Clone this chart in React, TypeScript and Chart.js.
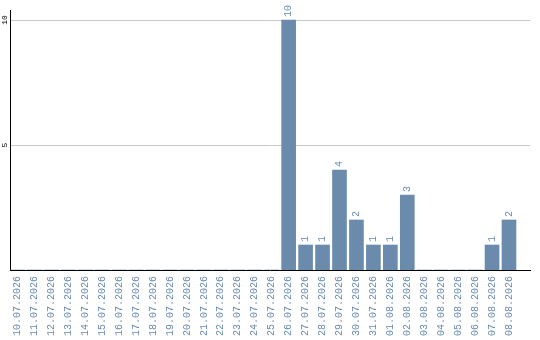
import React, { useEffect, useRef } from "react";
import { Chart, registerables } from "chart.js";

Chart.register(...registerables);

// Daily counts, 10.07.2026 – 08.08.2026
const dates: string[] = [
  "10.07.2026", "11.07.2026", "12.07.2026", "13.07.2026", "14.07.2026",
  "15.07.2026", "16.07.2026", "17.07.2026", "18.07.2026", "19.07.2026",
  "20.07.2026", "21.07.2026", "22.07.2026", "23.07.2026", "24.07.2026",
  "25.07.2026", "26.07.2026", "27.07.2026", "28.07.2026", "29.07.2026",
  "30.07.2026", "31.07.2026", "01.08.2026", "02.08.2026", "03.08.2026",
  "04.08.2026", "05.08.2026", "06.08.2026", "07.08.2026", "08.08.2026",
];
const counts: number[] = [
  0, 0, 0, 0, 0, 0, 0, 0, 0, 0,
  0, 0, 0, 0, 0, 0, 10, 1, 1, 4,
  2, 1, 1, 3, 0, 0, 0, 0, 1, 2,
];
const yTicks: number[] = [5, 10];

const BAR = "#6a8bac";
const TEXT = "#6a8bb0";
const MONO = "'Liberation Mono', 'DejaVu Sans Mono', monospace";

// Rotated value labels above each non-zero bar
const valueLabels = {
  id: "valueLabels",
  afterDatasetsDraw(chart: any) {
    const ctx = chart.ctx;
    const meta = chart.getDatasetMeta(0);
    ctx.save();
    ctx.fillStyle = TEXT;
    ctx.font = `10px ${MONO}`;
    ctx.textAlign = "left";
    ctx.textBaseline = "middle";
    meta.data.forEach((bar: any, i: number) => {
      const v = counts[i];
      if (!v) return;
      ctx.save();
      ctx.translate(bar.x, bar.y - 3);
      ctx.rotate(-Math.PI / 2);
      ctx.fillText(String(v), 0, 0);
      ctx.restore();
    });
    ctx.restore();
  },
};

// Rotated y-axis tick labels at the left edge
const yTickLabels = {
  id: "yTickLabels",
  afterDraw(chart: any) {
    const ctx = chart.ctx;
    const y = chart.scales.y;
    ctx.save();
    ctx.fillStyle = "#000";
    ctx.font = `8px ${MONO}`;
    ctx.textAlign = "center";
    ctx.textBaseline = "middle";
    yTicks.forEach((t) => {
      ctx.save();
      ctx.translate(5, y.getPixelForValue(t));
      ctx.rotate(-Math.PI / 2);
      ctx.fillText(String(t), 0, 0);
      ctx.restore();
    });
    ctx.restore();
  },
};

export default function App() {
  const ref = useRef<HTMLCanvasElement>(null);

  useEffect(() => {
    if (!ref.current) return;
    const chart = new Chart(ref.current, {
      type: "bar",
      data: {
        datasets: [
          {
            data: counts.map((v, i) => ({ x: i, y: v })),
            backgroundColor: BAR,
            borderWidth: 0,
            barThickness: 14,
          },
        ],
      },
      options: {
        animation: false,
        responsive: false,
        layout: { padding: { left: 10, right: 10, top: 10, bottom: 0 } },
        plugins: { legend: { display: false }, tooltip: { enabled: false } },
        scales: {
          x: {
            type: "linear",
            offset: false,
            min: -0.44,
            max: 30.24,
            afterBuildTicks: (scale: any) => {
              scale.ticks = dates.map((_, i) => ({ value: i }));
            },
            afterFit: (scale: any) => {
              scale.height = 70;
              scale.paddingLeft = 0;
              scale.paddingRight = 0;
            },
            grid: { display: false, drawTicks: false, offset: false },
            border: { color: "#000", width: 1 },
            ticks: {
              autoSkip: false,
              minRotation: 90,
              maxRotation: 90,
              padding: 6,
              color: TEXT,
              font: { family: MONO, size: 10 },
              callback: (v: any) => dates[v as number] ?? "",
            },
          },
          y: {
            min: 0,
            max: 10.4,
            afterBuildTicks: (scale: any) => {
              scale.ticks = yTicks.map((v) => ({ value: v }));
            },
            afterFit: (scale: any) => {
              scale.width = 0;
              scale.paddingTop = 0;
              scale.paddingBottom = 0;
            },
            grid: { color: "#c8c8c8", drawTicks: false },
            border: { color: "#000", width: 1 },
            ticks: { display: false },
          },
        },
      },
      plugins: [valueLabels, yTickLabels],
    });
    return () => chart.destroy();
  }, []);

  return (
    <div style={{ position: "fixed", left: 0, top: 0, width: 540, height: 340, background: "#fff" }}>
      <canvas ref={ref} width={540} height={340} />
    </div>
  );
}
